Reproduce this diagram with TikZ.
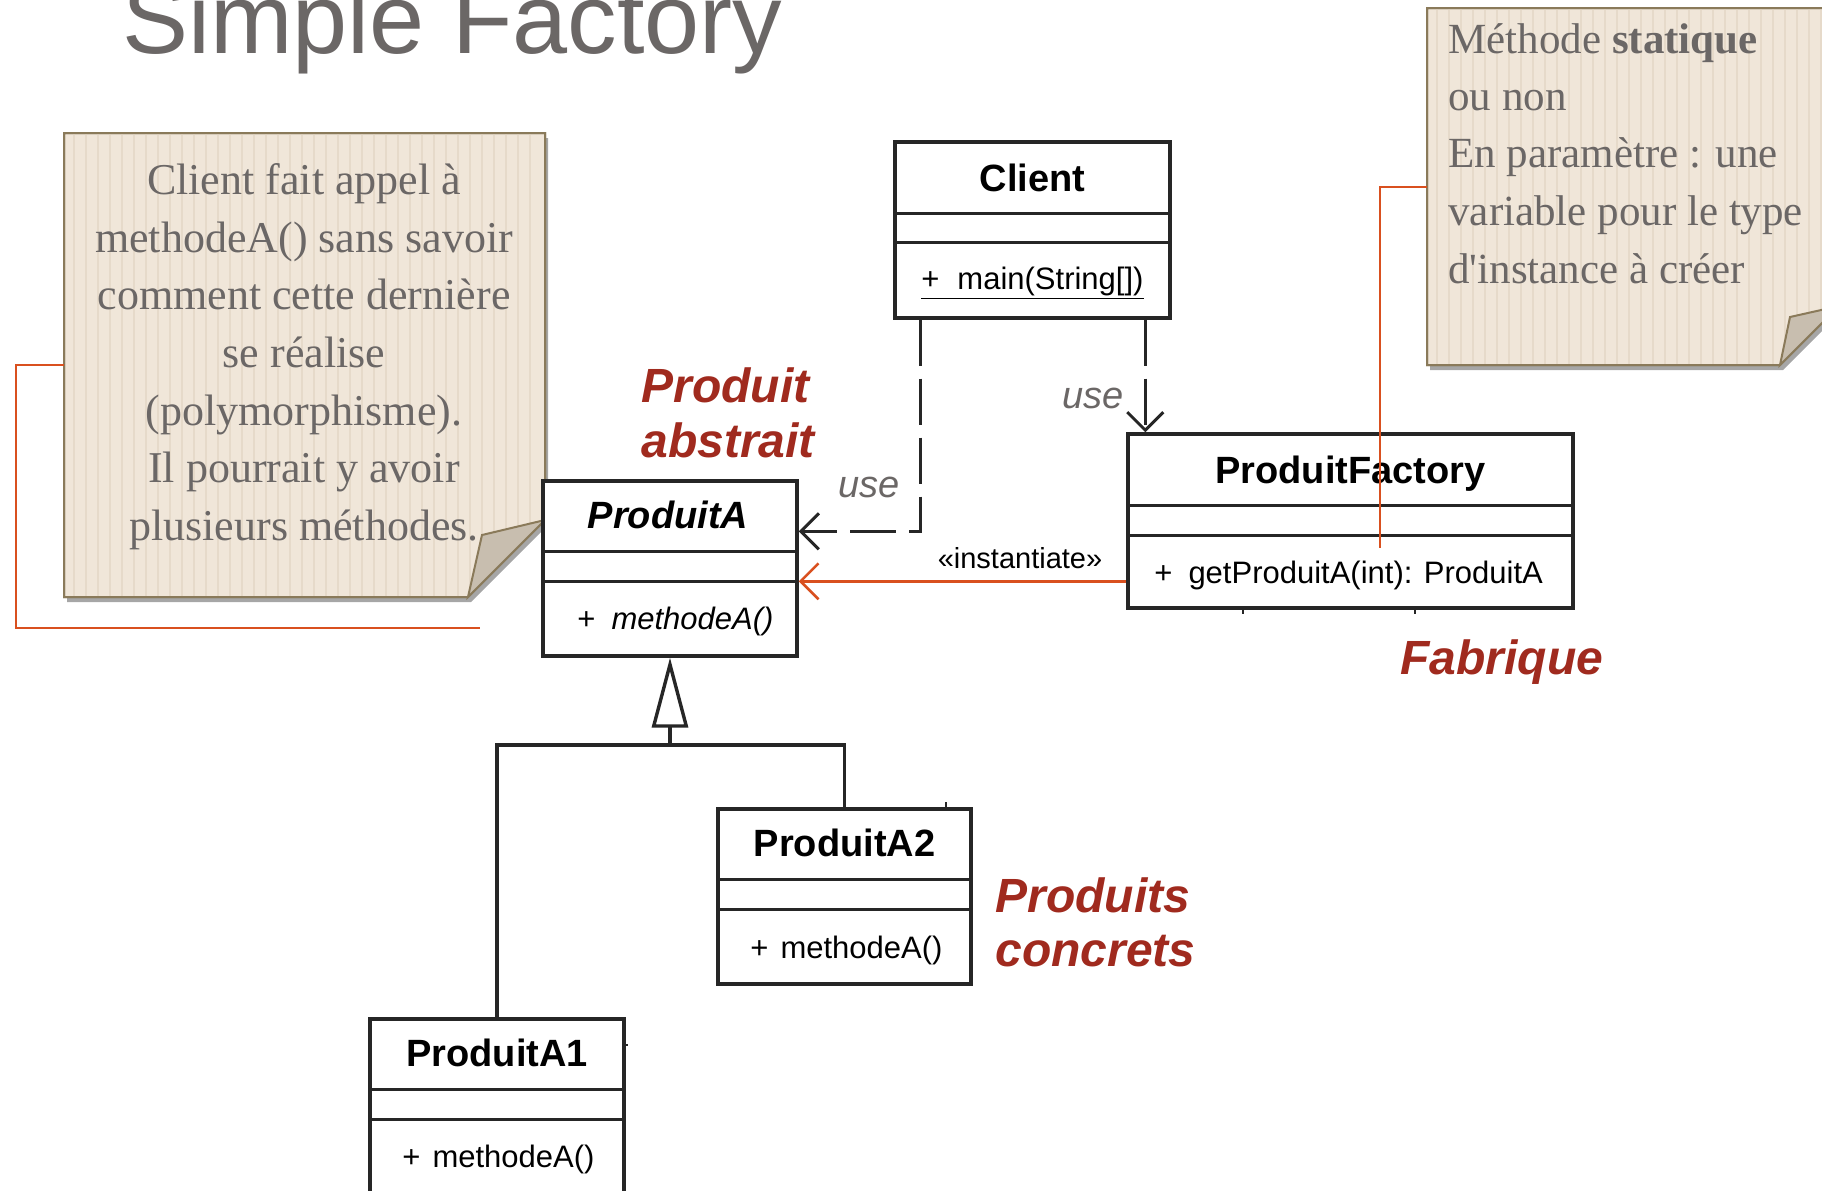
\documentclass[tikz,border=0pt]{standalone}
\usepackage{fontspec}
\setmainfont{Liberation Serif}
\setsansfont{Liberation Sans}
\usetikzlibrary{arrows.meta,shadows,calc}
\definecolor{titlegray}{HTML}{6B6766}
\definecolor{notebg}{HTML}{F0E6D9}
\definecolor{notestripe}{HTML}{E6DACA}
\definecolor{noteborder}{HTML}{8A7A5A}
\definecolor{foldcol}{HTML}{C8BEAF}
\definecolor{redline}{HTML}{D9501F}
\definecolor{redtext}{HTML}{A02A1E}
\definecolor{umlcol}{HTML}{262626}
\tikzset{
  umlbox/.style={draw=umlcol, line width=1.7pt, fill=white, inner sep=0pt},
  umlsep/.style={draw=umlcol, line width=1.7pt},
  cname/.style={font=\fontsize{19}{22}\selectfont\sffamily\bfseries, text=black, inner sep=0pt, anchor=base},
  cmeth/.style={font=\fontsize{15.5}{18}\selectfont\sffamily, text=black, inner sep=0pt, anchor=base west},
  notetext/.style={font=\fontsize{22}{29}\selectfont, text=titlegray, inner sep=0pt, anchor=base},
  notetextb/.style={font=\fontsize{21.5}{29}\selectfont, text=titlegray, inner sep=0pt, anchor=base west},
  redlabel/.style={font=\fontsize{24}{28}\selectfont\sffamily\bfseries\itshape, text=redtext, inner sep=0pt, anchor=base west},
  uselabel/.style={font=\fontsize{19}{22}\selectfont\sffamily\itshape, text=titlegray, inner sep=0pt, anchor=base},
  usedep/.style={draw=umlcol, line width=1.5pt, dash pattern=on 23pt off 6.5pt, -{Straight Barb[length=9pt,width=18pt]}},
  redconn/.style={draw=redline, line width=1.3pt},
  notefill/.style={fill=notebg, draw=noteborder, line width=1pt},
  noteshadow/.style={drop shadow={shadow xshift=1.5pt, shadow yshift=-2.5pt, opacity=0.35, fill=black}},
}
\begin{document}
\begin{tikzpicture}[x=0.5pt,y=-0.5pt]
\useasboundingbox (0,0) rectangle (1822,1190);
\clip (0,0) rectangle (1822,1190);
\fill[white] (0,0) rectangle (1822,1190);

% Title
\node[anchor=base west, inner sep=0pt, text=titlegray, font=\fontsize{49.5}{59}\selectfont\sffamily] (title) at (122,53) {Simple Factory};

% ---------- Note 1 ----------
\path[notefill, noteshadow] (64,133) -- (545,133) -- (545,520) -- (468,597) -- (64,597) -- cycle;
\begin{scope}
\clip (64,133) -- (545,133) -- (545,520) -- (468,597) -- (64,597) -- cycle;
\foreach \x in {74,86,...,540} \draw[notestripe, line width=1pt] (\x,133) -- (\x,597);
\end{scope}
\draw[noteborder, line width=1pt] (64,133) -- (545,133) -- (545,520) -- (468,597) -- (64,597) -- cycle;
\filldraw[fill=foldcol, draw=noteborder, line width=1pt] (545,520) -- (482,535) -- (468,597) -- cycle;
\node[notetext] (n1l1) at (304,194) {Client fait appel à};
\node[notetext] (n1l2) at (304,252) {methodeA() sans savoir};
\node[notetext] (n1l3) at (304,309) {comment cette dernière};
\node[notetext] (n1l4) at (304,367) {se réalise};
\node[notetext] (n1l5) at (304,425) {(polymorphisme).};
\node[notetext] (n1l6) at (304,482) {Il pourrait y avoir};
\node[notetext] (n1l7) at (304,540) {plusieurs méthodes.};
\coordinate (n1a) at (64,365);
\coordinate (n1c) at (16,628);
\coordinate (n1e) at (480,628);
\draw[redconn] (n1a) -| (n1c) -- (n1e);

% ---------- Note 2 ----------
\path[notefill, noteshadow] (1427,8) -- (1839,8) -- (1839,306) -- (1780,365) -- (1427,365) -- cycle;
\begin{scope}
\clip (1427,8) -- (1839,8) -- (1839,306) -- (1780,365) -- (1427,365) -- cycle;
\foreach \x in {1437,1449,...,1835} \draw[notestripe, line width=1pt] (\x,8) -- (\x,365);
\end{scope}
\draw[noteborder, line width=1pt] (1427,8) -- (1839,8) -- (1839,306) -- (1780,365) -- (1427,365) -- cycle;
\filldraw[fill=foldcol, draw=noteborder, line width=1pt] (1839,306) -- (1790,317) -- (1780,365) -- cycle;
\node[notetextb] (n2l1) at (1448,53) {Méthode \textbf{statique}};
\node[notetextb] (n2l2) at (1448,110) {ou non};
\node[notetextb] (n2l3) at (1448,167) {En paramètre : une};
\node[notetextb] (n2l4) at (1448,225) {variable pour le type};
\node[notetextb] (n2l5) at (1448,283) {d\textquotesingle instance à créer};

% ---------- UML classes ----------
% Client
\node[umlbox, minimum width=137.5pt, minimum height=88pt] (client) at (1032.5,230) {};
\draw[umlsep] ([yshift=-36.5pt]client.north west) -- ([yshift=-36.5pt]client.north east);
\draw[umlsep] ([yshift=-51pt]client.north west) -- ([yshift=-51pt]client.north east);
\node[cname] (clientname) at (1032.5,191) {Client};
\node[cmeth] (clientm) at (921,289) {\underline{+\hspace{9pt}main(String[])}};

% ProduitFactory
\node[umlbox, minimum width=222.5pt, minimum height=87pt] (pf) at (1350.5,521) {};
\draw[umlsep] ([yshift=-36.5pt]pf.north west) -- ([yshift=-36.5pt]pf.north east);
\draw[umlsep] ([yshift=-51.5pt]pf.north west) -- ([yshift=-51.5pt]pf.north east);
\node[cname] (pfname) at (1350.5,483) {ProduitFactory};
\node[cmeth] (pfm) at (1154,583) {+\hspace{8pt}getProduitA(int): ProduitA};
\draw[umlsep, line width=1pt] (1243,608) -- (1243,614);
\draw[umlsep, line width=1pt] (1415,608) -- (1415,614);

% ProduitA
\node[umlbox, minimum width=127pt, minimum height=87.5pt] (pa) at (670,568.5) {};
\draw[umlsep] ([yshift=-36pt]pa.north west) -- ([yshift=-36pt]pa.north east);
\draw[umlsep] ([yshift=-51pt]pa.north west) -- ([yshift=-51pt]pa.north east);
\node[cname, font=\fontsize{19}{22}\selectfont\sffamily\bfseries\itshape] (paname) at (668,528) {ProduitA};
\node[cmeth] (pam) at (577,629) {+\hspace{8pt}\textit{methodeA()}};

% ProduitA2
\node[umlbox, minimum width=126.5pt, minimum height=87.5pt] (pa2) at (844.5,896.5) {};
\draw[umlsep] ([yshift=-36pt]pa2.north west) -- ([yshift=-36pt]pa2.north east);
\draw[umlsep] ([yshift=-51pt]pa2.north west) -- ([yshift=-51pt]pa2.north east);
\node[cname] (pa2name) at (844.5,856) {ProduitA2};
\node[cmeth] (pa2m) at (750,958) {+\hspace{6pt}methodeA()};
\draw[umlsep, line width=1pt] (946,802) -- (946,809);

% ProduitA1
\node[umlbox, minimum width=127pt, minimum height=87.5pt] (pa1) at (497,1106.5) {};
\draw[umlsep] ([yshift=-36pt]pa1.north west) -- ([yshift=-36pt]pa1.north east);
\draw[umlsep] ([yshift=-51pt]pa1.north west) -- ([yshift=-51pt]pa1.north east);
\node[cname] (pa1name) at (497,1066) {ProduitA1};
\node[cmeth] (pa1m) at (402,1167) {+\hspace{6pt}methodeA()};
\draw[umlsep, line width=1pt] (624,1045) -- (628,1045);

% ---------- Connectors ----------
\coordinate (u1s) at ([xshift=13.5pt]client.south west);
\coordinate (u1e) at ([yshift=-26pt]pa.north east);
\draw[usedep] (u1s) |- (u1e);
\node[uselabel] (use1) at (869,497) {use};

\coordinate (u2s) at ([xshift=126pt]client.south west);
\draw[usedep] (u2s) -- (u2s |- pf.north);
\node[uselabel] (use2) at (1093,408) {use};

\coordinate (ins) at ([yshift=-74.5pt]pf.north west);
\draw[redconn, -{Straight Barb[length=9pt,width=18pt]}] (ins) -- (ins -| pa.east);
\node[inner sep=0pt, anchor=base, font=\fontsize{14.5}{17}\selectfont\sffamily] (instlabel) at (1020,568) {«instantiate»};

\coordinate (gb) at (670,745);
\draw[umlsep] (pa1.north) |- (gb) -| (pa2.north);
\draw[umlsep, -{Triangle[open, length=35pt, width=18pt, fill=white]}] (gb) -- (pa.south);

% Note 2 connector (over the factory box)
\coordinate (n2a) at (1427,187);
\coordinate (n2e) at (1380,548);
\draw[redconn] (n2a) -| (n2e);

% ---------- Red labels ----------
\node[redlabel] (lab1) at (641,402) {Produit};
\node[redlabel] (lab2) at (641,457) {abstrait};
\node[redlabel] (lab3) at (1400,674) {Fabrique};
\node[redlabel] (lab4) at (995,912) {Produits};
\node[redlabel] (lab5) at (995,966) {concrets};
\end{tikzpicture}
\end{document}
